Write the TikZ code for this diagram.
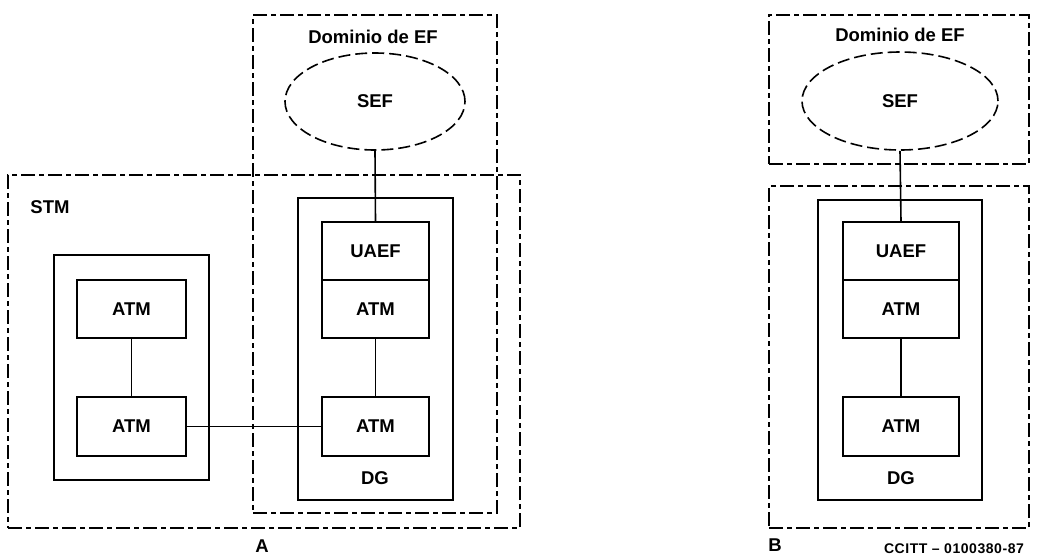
\documentclass[tikz,border=0pt]{standalone}
\usepackage{fontspec}
\setmainfont{Liberation Sans}
\usetikzlibrary{shapes.geometric}
\begin{document}
\begin{tikzpicture}[x=1pt,y=-1pt,
  txt/.style={font=\fontsize{18.5}{21}\selectfont\bfseries},
  box/.style={draw,line width=1.6pt,rectangle,inner sep=0pt,txt},
  region/.style={draw,line width=1.6pt,rectangle,inner sep=0pt,dash pattern=on 14pt off 4pt on 5pt off 4pt},
  oval/.style={draw,ellipse,line width=1.6pt,inner sep=0pt,dash pattern=on 12pt off 5pt,txt},
  lbl/.style={inner sep=0pt,txt},
  link/.style={line width=1.6pt}]
\useasboundingbox (0,0) rectangle (1037,558);
% ---------- Part A ----------
\node[region,minimum width=512pt,minimum height=353pt] (stmA) at (264,351.5) {};
\node[region,minimum width=244pt,minimum height=498pt] (efA) at (375,264) {};
\node[lbl] (efAl) at (373,37) {Dominio de EF};
\node[lbl] (stmAl) at (50,207) {STM};
\node[oval,minimum width=180pt,minimum height=97pt] (sefA) at (375,101.5) {SEF};
\node[box,minimum width=155pt,minimum height=302pt] (dgA) at (375.5,349) {};
\node[box,minimum width=107pt,minimum height=58pt] (uaefA) at (375.5,251) {UAEF};
\node[box,minimum width=107pt,minimum height=58pt] (atmA1) at (375.5,309) {ATM};
\node[box,minimum width=107pt,minimum height=59pt] (atmA2) at (375.5,426.5) {ATM};
\node[lbl] (dgAl) at (375,478) {DG};
\node[box,minimum width=155pt,minimum height=225pt] (lbox) at (131.5,367.5) {};
\node[box,minimum width=109pt,minimum height=58pt] (atmL1) at (131.5,309) {ATM};
\node[box,minimum width=109pt,minimum height=59pt] (atmL2) at (131.5,426.5) {ATM};
\node[lbl] (Alab) at (262,546) {A};
\draw[link] (sefA.south) -- (uaefA.north);
\draw[link] (atmA1.south) -- (atmA2.north);
\draw[link] (atmL1.south) -- (atmL2.north);
\draw[link] (atmL2.east) -- (atmA2.west);
% ---------- Part B ----------
\node[region,minimum width=260pt,minimum height=149pt] (efB) at (899,89.5) {};
\node[region,minimum width=260pt,minimum height=342pt] (stmB) at (899,357) {};
\node[lbl] (efBl) at (900,35) {Dominio de EF};
\node[oval,minimum width=196pt,minimum height=98pt] (sefB) at (900,101) {SEF};
\node[box,minimum width=164pt,minimum height=300pt] (dgB) at (900,350) {};
\node[box,minimum width=116pt,minimum height=58pt] (uaefB) at (901,251) {UAEF};
\node[box,minimum width=116pt,minimum height=58pt] (atmB1) at (901,309) {ATM};
\node[box,minimum width=116pt,minimum height=59pt] (atmB2) at (901,426.5) {ATM};
\node[lbl] (dgBl) at (901,478) {DG};
\node[lbl] (Blab) at (775,545) {B};
\node[inner sep=0pt,font=\fontsize{14}{16}\selectfont\bfseries\addfontfeature{LetterSpace=4}] (code) at (954,549) {CCITT -- 0100380-87};
\draw[link] (sefB.south) -- (uaefB.north);
\draw[link] (atmB1.south) -- (atmB2.north);
\end{tikzpicture}
\end{document}
